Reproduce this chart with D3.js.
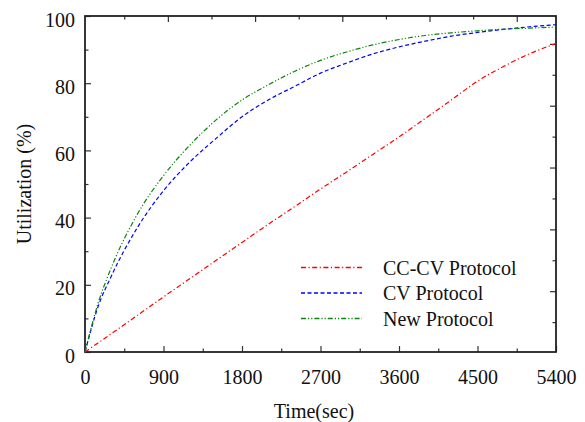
<!DOCTYPE html>
<meta charset="utf-8">
<script src="https://d3js.org/d3.v7.min.js"></script>
<style>
  body { margin: 0; background: #fff; }
</style>
<div id="chart"></div>
<script>

// data
var times = [0, 150, 300, 600, 900, 1200, 1500, 1800, 2100, 2400, 2700, 3000, 3300, 3600, 3900, 4200, 4500, 4800, 5100, 5400];
var ccCv = [0, 2.7, 5.4, 10.9, 16.4, 21.8, 27.2, 32.6, 38.0, 43.2, 48.5, 53.6, 58.8, 64.0, 69.5, 75.0, 80.6, 85.0, 88.8, 91.8];
var cv = [0, 13.5, 22.5, 37.0, 48.0, 56.5, 63.5, 70.0, 75.0, 79.0, 83.0, 86.0, 88.7, 90.8, 92.5, 94.0, 95.1, 96.0, 96.8, 97.4];
var newProto = [0, 14.5, 25.0, 41.0, 52.5, 61.5, 69.0, 75.0, 79.5, 83.5, 86.8, 89.3, 91.4, 93.0, 94.2, 95.0, 95.6, 96.1, 96.4, 96.7];

var seriesNames = ["CC-CV Protocol", "CV Protocol", "New Protocol"];
var xTicks = [0, 900, 1800, 2700, 3600, 4500, 5400];
var xMinor = [450, 1350, 2250, 3150, 4050, 4950];
var yTicks = [0, 20, 40, 60, 80, 100];
var yMinor = [10, 30, 50, 70, 90];
// the top and right frame ticks in the picture do not line up with the bottom/left ones
var topTicks = [450, 950, 1450, 1950, 2450, 2950, 3450, 3950, 4450, 4950];
var rightTicks = [91.7, 82.5, 73.3, 64.1, 54.9, 45.7, 36.5, 27.3, 18.1, 8.9];

var margin = {top: 16, right: 29, bottom: 70, left: 85},
    width = 585 - margin.left - margin.right,
    height = 422 - margin.top - margin.bottom;

var svg = d3.select("#chart")
  .append("svg")
    .attr("width", 585)
    .attr("height", 422)
    .style("font-family", "Times New Roman")
  .append("g")
    .attr("transform", "translate(" + margin.left + "," + margin.top + ")");

var x = d3.scaleLinear().domain([0, 5400]).range([0, width]);
var y = d3.scaleLinear().domain([0, 100]).range([height, 0]);

// bottom axis: labels + inward ticks
var xAxis = svg.append("g")
  .attr("transform", "translate(0," + height + ")")
  .call(d3.axisBottom(x).tickValues(xTicks).tickFormat(d3.format("d"))
    .tickSizeInner(-6).tickSizeOuter(0).tickPadding(0));
xAxis.selectAll("text").attr("y", 32).attr("dy", null);
svg.append("g")
  .attr("transform", "translate(0," + height + ")")
  .call(d3.axisBottom(x).tickValues(xMinor).tickSizeInner(-3.5).tickSizeOuter(0).tickFormat(""));

// left axis
var yAxis = svg.append("g")
  .call(d3.axisLeft(y).tickValues(yTicks).tickFormat(d3.format("d"))
    .tickSizeInner(-6).tickSizeOuter(0).tickPadding(0));
yAxis.selectAll("text").attr("x", -10).attr("dy", "10px");
svg.append("g")
  .call(d3.axisLeft(y).tickValues(yMinor).tickSizeInner(-3.5).tickSizeOuter(0).tickFormat(""));

// top axis
var topAxis = svg.append("g")
  .call(d3.axisTop(x).tickValues(topTicks).tickSizeOuter(0).tickFormat(""));
topAxis.selectAll(".tick line").attr("y2", function(d, i) { return i % 2 ? 6 : 3.5; });

// right axis
var rightAxis = svg.append("g")
  .attr("transform", "translate(" + width + ",0)")
  .call(d3.axisRight(y).tickValues(rightTicks).tickSizeOuter(0).tickFormat(""));
rightAxis.selectAll(".tick line").attr("x2", function(d, i) { return i % 2 ? -3.5 : -6; });

svg.selectAll(".domain").remove();
svg.selectAll(".tick line").attr("stroke", "#333").attr("stroke-width", 1.2);
// drop the sans-serif / size attributes that d3.axis puts on its groups
svg.selectAll("g").attr("font-family", null).attr("font-size", null);

// frame
svg.append("rect")
  .attr("width", width)
  .attr("height", height)
  .attr("fill", "none")
  .attr("stroke", "#222")
  .attr("stroke-width", 1.8);

// lines
var series = [
  {name: seriesNames[0], values: ccCv, color: "#ff0000", dash: "5,2.5,1.2,2.5"},
  {name: seriesNames[1], values: cv, color: "#0000ff", dash: "4,2.5"},
  {name: seriesNames[2], values: newProto, color: "#0a870a", dash: "5,2,1.2,2,1.2,2"}
];

var line = d3.line()
  .curve(d3.curveMonotoneX)
  .x(function(d) { return x(d[0]); })
  .y(function(d) { return y(d[1]); });

svg.selectAll(".series")
  .data(series)
  .enter()
  .append("path")
    .attr("class", "series")
    .attr("fill", "none")
    .attr("stroke", function(d) { return d.color; })
    .attr("stroke-width", 1.2)
    .attr("stroke-dasharray", function(d) { return d.dash; })
    .attr("d", function(d) { return line(times.map(function(t, i) { return [t, d.values[i]]; })); });

// legend
var legend = svg.selectAll(".legend")
  .data(series)
  .enter()
  .append("g")
    .attr("class", "legend")
    .attr("transform", function(d, i) { return "translate(216," + (251.5 + i * 25.5) + ")"; });

legend.append("line")
  .attr("x1", 0).attr("x2", 61)
  .attr("stroke", function(d) { return d.color; })
  .attr("stroke-width", 1.3)
  .attr("stroke-dasharray", function(d) { return d.dash; });

legend.append("text")
  .attr("x", 82)
  .attr("y", 7)
  .text(function(d) { return d.name; });

// axis titles
svg.append("text")
  .attr("x", 229)
  .attr("y", height + 66)
  .attr("text-anchor", "middle")
  .text("Time(sec)");

svg.append("text")
  .attr("transform", "translate(-54," + (height / 2) + ") rotate(-90)")
  .attr("text-anchor", "middle")
  .text("Utilization (%)");

svg.selectAll("text")
  .style("font-family", "Times New Roman")
  .style("font-size", "20px")
  .attr("fill", "#111");

</script>
